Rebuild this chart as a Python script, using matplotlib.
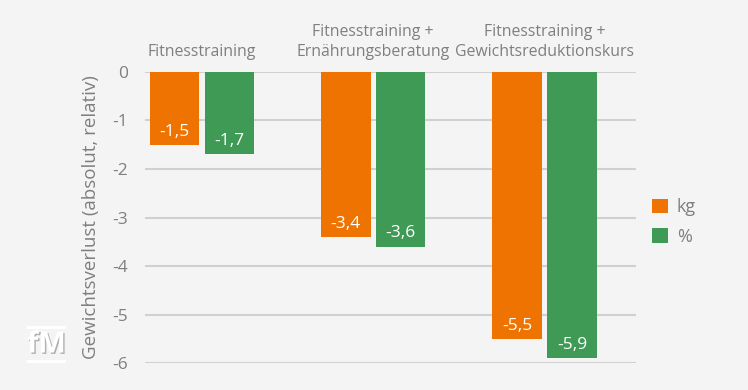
import matplotlib
matplotlib.use("Agg")
import matplotlib.pyplot as plt
import matplotlib.patheffects as pe
import numpy as np

categories = ["Fitnesstraining", "Fitnesstraining +\nErnährungsberatung", "Fitnesstraining +\nGewichtsreduktionskurs"]
kg_values = [-1.5, -3.4, -5.5]
pct_values = [-1.7, -3.6, -5.9]
series_names = ["kg", "%"]
y_ticks = [0, -1, -2, -3, -4, -5, -6]
y_label = "Gewichtsverlust (absolut, relativ)"

plt.rcParams['font.family'] = ['Open Sans', 'DejaVu Sans']
bg = "#f4f4f4"
txt = "#7f7f7f"
orange = "#ef7300"
green = "#3f9a56"

fig = plt.figure(figsize=(7.48, 3.90), dpi=100, facecolor=bg)
ax = fig.add_axes([0.1939, 0.0692, 0.6564, 0.7462], facecolor=bg)

x = np.arange(len(categories))
w = 0.29
off = 0.16
b1 = ax.bar(x - off, kg_values, w, color=orange, label=series_names[0], zorder=3)
b2 = ax.bar(x + off, pct_values, w, color=green, label=series_names[1], zorder=3)

def fmt(v):
    return f"{v:.1f}".replace(".", ",")

for bars, vals in ((b1, kg_values), (b2, pct_values)):
    for r, v in zip(bars, vals):
        ax.annotate(fmt(v), (r.get_x() + r.get_width() / 2, v), xytext=(0, 9.5),
                    textcoords="offset points", ha="center", va="center",
                    color="white", fontsize=12.5, zorder=4)

ax.set_ylim(-6, 0)
ax.set_xlim(-0.333, 2.535)
ax.set_yticks(y_ticks)
ax.set_yticklabels([str(t) for t in y_ticks])
ax.tick_params(axis="y", length=0, pad=12, labelsize=12.5, labelcolor=txt)
ax.set_xticks([])
ax.grid(axis="y", color="#d0d0d0", linewidth=1.5, zorder=0)
for s in ax.spines.values():
    s.set_visible(False)
ax.set_ylabel(y_label, color=txt, fontsize=13.5, labelpad=9)

for xi, c in zip(x, categories):
    ax.annotate(c, (xi, 0), xytext=(0, 8.5), textcoords="offset points",
                ha="center", va="bottom", color=txt, fontsize=11.4,
                linespacing=1.32, annotation_clip=False)

leg = ax.legend(loc="center left", bbox_to_anchor=(1.0, 0.485), frameon=False,
                fontsize=13, labelcolor=txt, handlelength=0.85, handleheight=0.85,
                handletextpad=0.5, labelspacing=0.65)

# logo
fig.text(46.5 / 748, 1 - 345 / 390, "fM", ha="center", va="center", color="white",
         fontsize=21, fontweight="bold", family=["Open Sans", "DejaVu Sans"],
         path_effects=[pe.withSimplePatchShadow(offset=(1.0, -1.0), shadow_rgbFace="#a8a8a8", alpha=0.9)])
for yy in (327, 361):
    fig.add_artist(plt.Line2D([28 / 748, 64 / 748], [1 - yy / 390, 1 - yy / 390],
                              color="white", linewidth=2.2,
                              path_effects=[pe.withSimplePatchShadow(offset=(0.8, -0.8), shadow_rgbFace="#a8a8a8")]))

fig.savefig("out.png", dpi=100, facecolor=bg)
